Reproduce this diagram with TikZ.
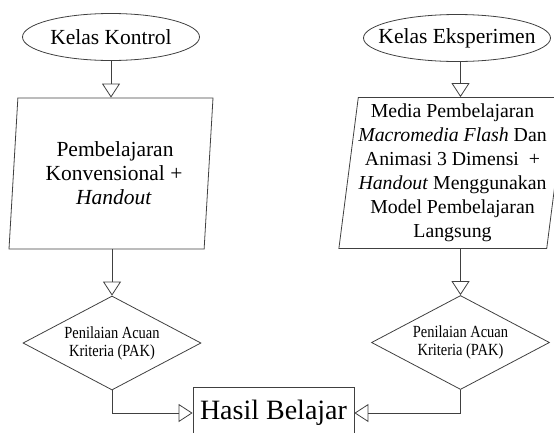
\documentclass[tikz,border=0pt]{standalone}
\usepackage{fontspec}
\setmainfont{Liberation Serif}
\newfontfamily\narrowfont[FakeStretch=0.85]{Liberation Serif}
\usetikzlibrary{shapes.geometric,arrows.meta}

\def\flabel{\fontsize{21.5}{24}\selectfont}
\def\mlabel{\fontsize{19.8}{24}\selectfont}
\def\slabel{\narrowfont\fontsize{17}{18}\selectfont}

\begin{document}
\begin{tikzpicture}[x=1pt,y=-1pt,
    line/.style={draw=black!75,line width=0.8pt},
    flow/.style={line,-{Triangle[open,width=18pt,length=14pt]}},
    kelas/.style={ellipse,line,inner xsep=-14pt,inner ysep=0pt,minimum height=47pt,font=\flabel},
    proses/.style={trapezium,trapezium left angle=82,trapezium right angle=98,
      trapezium stretches body,line,align=center,inner sep=0pt,minimum height=151pt},
    nilai/.style={diamond,aspect=1.9,line,align=center,inner sep=0pt,
      minimum width=178pt,minimum height=94pt,font=\slabel}
    ]
    \path[use as bounding box,clip] (0,0) rectangle (554,432);

    % kelas
    \node[kelas,minimum width=177pt] (kk) at (111,37) {Kelas Kontrol};
    \node[kelas,minimum width=187pt] (ke) at (457,38) {Kelas Eksperimen};

    % pembelajaran
    \node[proses,minimum width=204pt,font=\flabel] (pk) at (111,173.5)
      {\hspace*{8pt}Pembelajaran\\\hspace*{6pt}Konvensional +\\\hspace*{6pt}\textit{Handout}};
    \node[proses,minimum width=225pt,font=\mlabel] (pe) at (452.5,173)
      {Media Pembelajaran\\\textit{Macromedia Flash} Dan\\Animasi 3 Dimensi~ +\\
       \textit{Handout} Menggunakan\\Model Pembelajaran\\Langsung};

    % penilaian
    \node[nilai] (nk) at (112,343) {Penilaian Acuan\\Kriteria (PAK)};
    \node[nilai] (ne) at (460.5,342.5) {Penilaian Acuan\\Kriteria (PAK)};

    % hasil
    \node[line,rectangle,inner sep=0pt,minimum width=161pt,minimum height=52pt,
      font=\fontsize{28}{30}\selectfont] (hb) at (273.5,413) {Hasil Belajar};

    % alur
    \draw[flow] (kk.south) -- (kk.south |- pk.north);
    \draw[flow] (ne.north |- ke.south) -- (ne.north |- pe.north);
    \draw[flow] (nk.north |- pk.south) -- (nk.north);
    \draw[flow] (ne.north |- pe.south) -- (ne.north);
    \draw[flow] (nk.south) |- (hb.west);
    \draw[flow] (ne.south) |- (hb.east);
  \end{tikzpicture}
\end{document}
